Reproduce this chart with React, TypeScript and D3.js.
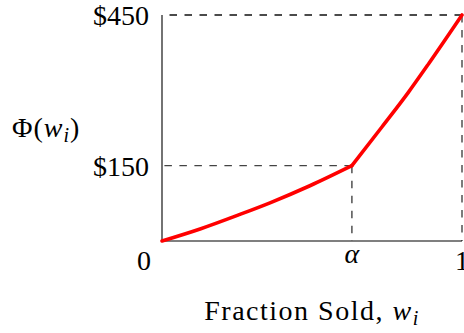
import React from "react";
import { scaleLinear, line, curveMonotoneX } from "d3";

// fraction sold vs payoff
const alpha = 0.633;
const lowX = [0, 0.127, 0.26, 0.36, 0.493, alpha];
const lowY = [0, 24, 53, 76, 110, 150];
const highX = [alpha, 0.733, 0.82, 0.89, 1];
const highY = [150, 227, 295, 354, 450];

const yTicks = [150, 450];
const yTickLabels = ["$150", "$450"];
const xTicks = [alpha, 1];

const W = 464;
const H = 333;
const margin = { top: 15, right: 2, bottom: 92, left: 162 };
const font = "'Liberation Serif', 'DejaVu Serif', serif";

export default function App() {
  const width = W - margin.left - margin.right;
  const height = H - margin.top - margin.bottom;

  const x = scaleLinear().domain([0, 1]).range([0, width]);
  const y = scaleLinear().domain([0, 450]).range([height, 0]);

  const curve = line<number>()
    .x((d) => x(d))
    .curve(curveMonotoneX);

  const pathFor = (xs: number[], ys: number[]) =>
    curve.y((_, i) => y(ys[i]))(xs) || "";

  const dashed = "7.5 7.5";

  return (
    <svg
      width={W}
      height={H}
      style={{ position: "absolute", left: 0, top: 0, background: "white" }}
      fontFamily={font}
      fontSize={28}
    >
      <g transform={`translate(${margin.left},${margin.top})`}>
        {/* guide lines, drawn from the point toward the axes */}
        <line x1={x(1)} y1={y(450)} x2={x(0)} y2={y(450)} stroke="#111" strokeWidth={1.4} strokeDasharray={dashed} />
        <line x1={x(alpha)} y1={y(150)} x2={x(0)} y2={y(150)} stroke="#444" strokeWidth={1.4} strokeDasharray={dashed} />
        <line x1={x(alpha)} y1={y(150)} x2={x(alpha)} y2={y(0)} stroke="#444" strokeWidth={1.4} strokeDasharray={dashed} />
        <line x1={x(1)} y1={y(450)} x2={x(1)} y2={y(0)} stroke="#444" strokeWidth={1.4} strokeDasharray={dashed} />

        {/* axes */}
        <line x1={0} y1={y(450)} x2={0} y2={y(0)} stroke="black" strokeWidth={1.1} />
        <line x1={0} y1={y(0)} x2={x(1)} y2={y(0)} stroke="black" strokeWidth={1.1} />

        <path d={pathFor(lowX, lowY)} fill="none" stroke="#ff0000" strokeWidth={3.6} strokeLinecap="round" />
        <path d={pathFor(highX, highY)} fill="none" stroke="#ff0000" strokeWidth={3.6} strokeLinecap="round" />

        {yTicks.map((t, i) => (
          <text key={t} x={-13} y={y(t) + 10} textAnchor="end">
            {yTickLabels[i]}
          </text>
        ))}
        <text x={-18} y={y(0) + 29} textAnchor="middle">0</text>
        <text x={x(xTicks[0])} y={y(0) + 22} textAnchor="middle" fontStyle="italic">α</text>
        <text x={x(xTicks[1])} y={y(0) + 29} textAnchor="middle">1</text>

        <text x={-150} y={122} letterSpacing={1}>
          Φ(<tspan fontStyle="italic">w</tspan>
          <tspan fontStyle="italic" fontSize={20} dy={5}>i</tspan>
          <tspan dy={-5}>)</tspan>
        </text>

        <text x={width / 2} y={305} textAnchor="middle" letterSpacing={1.5}>
          Fraction Sold, <tspan fontStyle="italic">w</tspan>
          <tspan fontStyle="italic" fontSize={20} dy={5}>i</tspan>
        </text>
      </g>
    </svg>
  );
}
